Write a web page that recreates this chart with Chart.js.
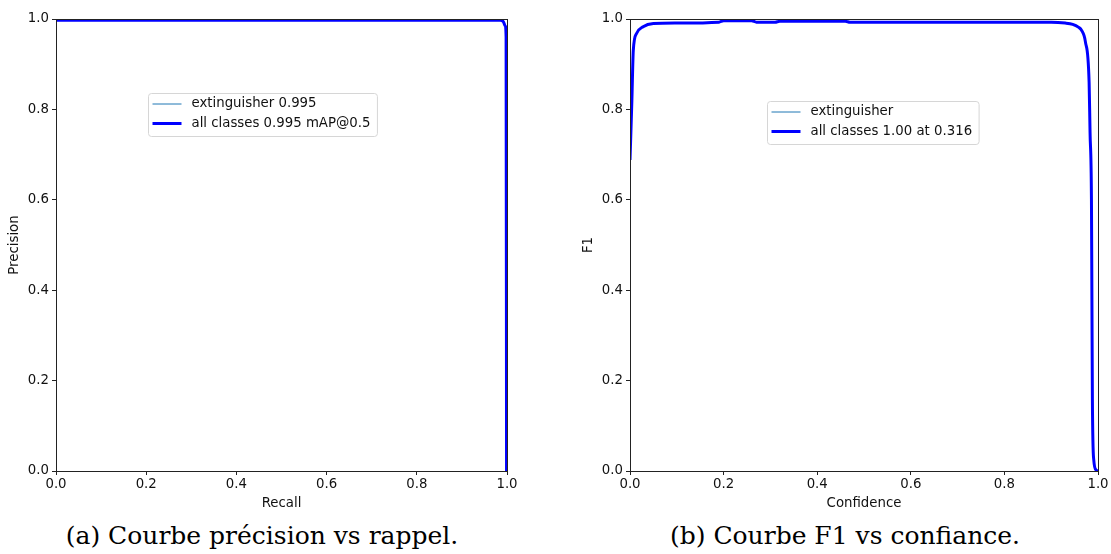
<!DOCTYPE html>
<html>
<head>
<meta charset="utf-8">
<script src="https://cdn.jsdelivr.net/npm/chart.js@4.4.1/dist/chart.umd.min.js"></script>
<style>
  html, body { margin: 0; padding: 0; background: #fff; }
  body { width: 1111px; height: 554px; position: relative; overflow: hidden; }
  canvas { position: absolute; top: 0; }
  #prChart { left: 0; }
  #f1Chart { left: 574px; }
  .caption {
    position: absolute; top: 523px;
    font-family: "DejaVu Serif", serif; font-size: 25px; line-height: 26px;
    white-space: nowrap; transform: translateX(-50%); color: #000;
  }
</style>
</head>
<body>
<canvas id="prChart" width="540" height="515"></canvas>
<canvas id="f1Chart" width="537" height="515"></canvas>
<div class="caption" style="left:262px">(a) Courbe précision vs rappel.</div>
<div class="caption" style="left:845px">(b) Courbe F1 vs confiance.</div>
<script>
// Precision-recall curve
const prRecall    = [0, 0.5, 0.985, 0.992, 0.996, 0.998, 0.999];
const prPrecision = [0.997, 0.997, 0.997, 0.994, 0.985, 0.96, 0.0];

// F1-confidence curve
const f1Confidence = [0, 0.004, 0.007, 0.014, 0.028, 0.05, 0.1, 0.19, 0.2, 0.26, 0.27, 0.31, 0.32, 0.46, 0.47, 0.9,
                      0.93, 0.946, 0.958, 0.965, 0.973, 0.981, 0.983, 0.986, 0.987, 0.988, 0.991, 0.996, 1.0];
const f1Score      = [0.688, 0.82, 0.93, 0.968, 0.983, 0.99, 0.991, 0.993, 0.996, 0.996, 0.993, 0.993, 0.995, 0.995, 0.993, 0.993,
                      0.991, 0.988, 0.982, 0.975, 0.95, 0.86, 0.75, 0.6, 0.38, 0.16, 0.024, 0.002, 0.0];

const axisTicks = [0, 0.2, 0.4, 0.6, 0.8, 1.0];
const prLabels = ["extinguisher 0.995", "all classes 0.995 mAP@0.5"];
const f1Labels = ["extinguisher", "all classes 1.00 at 0.316"];

const tickFont = { family: "DejaVu Sans", size: 13.3 };

function toPoints(xs, ys) {
  return xs.map((x, i) => ({ x: x, y: ys[i] }));
}

// Draw the full axes frame (matplotlib spines)
const framePlugin = {
  id: "frame",
  afterDatasetsDraw(chart) {
    const { ctx, chartArea: a } = chart;
    ctx.save();
    ctx.strokeStyle = "#222";
    ctx.lineWidth = 1;
    ctx.strokeRect(Math.round(a.left) + 0.5, Math.round(a.top) + 0.5,
                   Math.round(a.right - a.left), Math.round(a.bottom - a.top));
    ctx.restore();
  }
};

// Legend box placed inside the axes, like matplotlib
const boxLegend = {
  id: "boxLegend",
  afterDraw(chart, args, opts) {
    const { ctx, chartArea: a } = chart;
    const x = Math.round(a.left + opts.x * (a.right - a.left)) + 0.5;
    const y = Math.round(a.top + opts.y * (a.bottom - a.top)) + 0.5;
    ctx.save();
    ctx.font = "13.3px 'DejaVu Sans'";
    const sets = chart.data.datasets;
    const textW = Math.max(...sets.map(d => ctx.measureText(d.label).width));
    const w = 43 + textW + 7, h = 43, r = 3;
    ctx.beginPath();
    ctx.roundRect(x, y, w, h, r);
    ctx.fillStyle = "rgba(255,255,255,0.8)";
    ctx.fill();
    ctx.strokeStyle = "#d6d6d6";
    ctx.lineWidth = 1;
    ctx.stroke();
    sets.forEach((d, i) => {
      const ry = y + 10.5 + i * 19.5;
      ctx.beginPath();
      ctx.moveTo(x + 4, ry);
      ctx.lineTo(x + 33, ry);
      ctx.strokeStyle = d.borderColor;
      ctx.lineWidth = d.borderWidth;
      ctx.stroke();
      ctx.fillStyle = "#111";
      ctx.textBaseline = "middle";
      ctx.fillText(d.label, x + 43, ry);
    });
    ctx.restore();
  }
};

function makeChart(id, xs, ys, labels, xTitle, yTitle, pad, legendPos) {
  const datasets = [
    { label: labels[0], data: toPoints(xs, ys), borderColor: "#1f77b4", borderWidth: 1, order: 1 },
    { label: labels[1], data: toPoints(xs, ys), borderColor: "#0000ff", borderWidth: 3, order: 0 }
  ];
  return new Chart(document.getElementById(id), {
    type: "line",
    data: { datasets: datasets },
    plugins: [framePlugin, boxLegend],
    options: {
      responsive: false,
      animation: false,
      layout: { padding: pad },
      elements: {
        point: { radius: 0 },
        line: { cubicInterpolationMode: "monotone", borderCapStyle: "butt" }
      },
      plugins: {
        legend: { display: false },
        tooltip: { enabled: false },
        boxLegend: legendPos
      },
      scales: {
        x: {
          type: "linear", min: 0, max: 1,
          afterBuildTicks: s => { s.ticks = axisTicks.map(v => ({ value: v })); },
          afterFit: s => { s.height = 44; },
          grid: { display: true, drawOnChartArea: false, drawTicks: true, tickLength: 4, color: "#222" },
          border: { display: false },
          ticks: { font: tickFont, color: "#111", padding: 2, autoSkip: false, maxRotation: 0,
                   callback: v => v.toFixed(1) },
          title: { display: true, text: xTitle, font: tickFont, color: "#111", padding: { top: 0, bottom: 3 } }
        },
        y: {
          type: "linear", min: 0, max: 1,
          afterBuildTicks: s => { s.ticks = axisTicks.map(v => ({ value: v })); },
          afterFit: s => { s.width = 56; },
          grid: { display: true, drawOnChartArea: false, drawTicks: true, tickLength: 4, color: "#222" },
          border: { display: false },
          ticks: { font: tickFont, color: "#111", padding: 3, autoSkip: false,
                   callback: v => v.toFixed(1) },
          title: { display: true, text: yTitle, font: tickFont, color: "#111", padding: { top: 7, bottom: 0 } }
        }
      }
    }
  });
}

makeChart("prChart", prRecall, prPrecision, prLabels, "Recall", "Precision",
          { top: 19, right: 33, left: 0, bottom: 0 }, { x: 0.204, y: 0.164 });
makeChart("f1Chart", f1Confidence, f1Score, f1Labels, "Confidence", "F1",
          { top: 19, right: 13, left: 0, bottom: 0 }, { x: 0.293, y: 0.181 });
</script>
</body>
</html>
